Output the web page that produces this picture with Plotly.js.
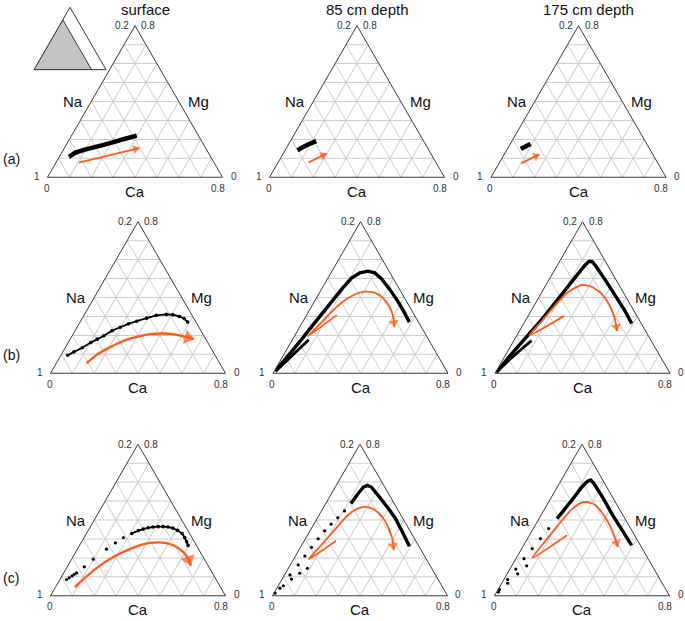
<!DOCTYPE html>
<html><head><meta charset="utf-8">
<script src="https://cdn.plot.ly/plotly-3.0.1.min.js"></script>
<style>html,body{margin:0;padding:0;background:#fff}#chart{width:685px;height:621px}</style>
</head><body><div id="chart"></div>
<script>
// ---------- text ----------
const columnTitles = ['surface', '85 cm depth', '175 cm depth'];
const rowLabels = ['(a)', '(b)', '(c)'];
const cornerNames = ['Na', 'Mg', 'Ca'];
const apexTicks = ['0.2', '0.8'];
const leftCornerTicks = ['1', '0'];
const rightCornerTicks = ['0', '0.8'];

// ---------- data: Mg (a-axis) and Ca (c-axis) fractions; Na = 1 - Mg - Ca (filled in by Plotly via sum) ----------
const a1BlackMg = [0.108, 0.130, 0.145, 0.158, 0.171, 0.186, 0.201, 0.220];
const a1BlackCa = [0.044, 0.063, 0.094, 0.132, 0.171, 0.209, 0.246, 0.298];
const a1ArrowMg = [0.078, 0.154];
const a1ArrowCa = [0.104, 0.343];

const a2BlackMg = [0.142, 0.159, 0.172, 0.183, 0.191];
const a2BlackCa = [0.057, 0.072, 0.088, 0.105, 0.118];
const a2ArrowMg = [0.078, 0.125];
const a2ArrowCa = [0.139, 0.198];

const a3BlackMg = [0.150, 0.159, 0.168, 0.176];
const a3BlackCa = [0.061, 0.072, 0.082, 0.093];
const a3ArrowMg = [0.075, 0.121];
const a3ArrowCa = [0.102, 0.161];

const b1BlackMg = [0.095, 0.113, 0.135, 0.162, 0.180, 0.198, 0.225, 0.243, 0.261, 0.275, 0.291, 0.306, 0.311, 0.309, 0.300, 0.288, 0.270];
const b1BlackCa = [0.031, 0.051, 0.078, 0.103, 0.124, 0.145, 0.169, 0.197, 0.226, 0.256, 0.294, 0.331, 0.374, 0.405, 0.439, 0.468, 0.492];
const b1ArrowMg = [0.054, 0.099, 0.138, 0.171, 0.192, 0.207, 0.210, 0.207, 0.196, 0.180];
const b1ArrowCa = [0.138, 0.164, 0.204, 0.248, 0.298, 0.351, 0.409, 0.456, 0.507, 0.567];

const b2MainMg = [0.015, 0.097, 0.183, 0.270, 0.356, 0.444, 0.502, 0.530, 0.539, 0.530, 0.499, 0.444, 0.380, 0.320, 0.270];
const b2MainCa = [0.005, 0.024, 0.042, 0.058, 0.075, 0.092, 0.108, 0.132, 0.165, 0.200, 0.246, 0.311, 0.381, 0.441, 0.488];
const b2LowerMg = [0.009, 0.060, 0.119, 0.177];
const b2LowerCa = [0.007, 0.027, 0.051, 0.075];
const b2ArrowMg = [0.307, 0.195, 0.252, 0.325, 0.385, 0.420, 0.431, 0.426, 0.398, 0.352, 0.307, 0.243];
const b2ArrowCa = [0.138, 0.062, 0.082, 0.106, 0.136, 0.171, 0.205, 0.252, 0.303, 0.357, 0.394, 0.434];

const b3MainMg = [0.005, 0.096, 0.186, 0.285, 0.394, 0.493, 0.569, 0.591, 0.589, 0.562, 0.484, 0.403, 0.334, 0.262];
const b3MainCa = [0.004, 0.023, 0.046, 0.072, 0.093, 0.111, 0.126, 0.135, 0.150, 0.182, 0.267, 0.352, 0.425, 0.494];
const b3LowerMg = [0.005, 0.069, 0.123, 0.172];
const b3LowerCa = [0.004, 0.029, 0.055, 0.081];
const b3ArrowMg = [0.303, 0.200, 0.276, 0.358, 0.430, 0.466, 0.457, 0.421, 0.358, 0.294, 0.222];
const b3ArrowCa = [0.165, 0.057, 0.076, 0.096, 0.120, 0.163, 0.212, 0.276, 0.345, 0.399, 0.447];

const c1SparseMg = [0.086, 0.095, 0.105, 0.113, 0.121, 0.153, 0.193, 0.246, 0.279, 0.307];
const c1SparseCa = [0.030, 0.038, 0.046, 0.052, 0.059, 0.078, 0.099, 0.133, 0.157, 0.180];
const c1DenseMg = [0.329, 0.344, 0.352, 0.359, 0.363, 0.365, 0.365, 0.363, 0.357, 0.345, 0.329, 0.307, 0.285, 0.266];
const c1DenseCa = [0.207, 0.230, 0.248, 0.267, 0.287, 0.310, 0.332, 0.355, 0.381, 0.409, 0.437, 0.460, 0.480, 0.496];
const c1ArrowMg = [0.046, 0.091, 0.149, 0.196, 0.232, 0.261, 0.279, 0.282, 0.274, 0.254, 0.224, 0.191, 0.158];
const c1ArrowCa = [0.088, 0.108, 0.139, 0.176, 0.218, 0.263, 0.315, 0.358, 0.407, 0.455, 0.500, 0.536, 0.563];

const c2SparseMg = [0.040, 0.110, 0.163, 0.210, 0.256, 0.301, 0.343, 0.378, 0.413, 0.448];
const c2SparseCa = [0.014, 0.025, 0.036, 0.043, 0.050, 0.058, 0.067, 0.079, 0.092, 0.105];
const c2DenseMg = [0.487, 0.536, 0.574, 0.583, 0.574, 0.525, 0.469, 0.408, 0.335, 0.262];
const c2DenseCa = [0.115, 0.121, 0.129, 0.142, 0.165, 0.224, 0.290, 0.358, 0.427, 0.495];
const c2LowerMg = [0.014, 0.053, 0.088, 0.119, 0.145];
const c2LowerCa = [0.005, 0.023, 0.043, 0.065, 0.087];
const c2ArrowMg = [0.291, 0.193, 0.268, 0.347, 0.425, 0.460, 0.469, 0.455, 0.417, 0.355, 0.303, 0.241];
const c2ArrowCa = [0.145, 0.069, 0.089, 0.110, 0.131, 0.159, 0.192, 0.237, 0.293, 0.354, 0.396, 0.434];

const c3SparseMg = [0.033, 0.086, 0.141, 0.196, 0.249, 0.302, 0.355];
const c3SparseCa = [0.006, 0.017, 0.027, 0.037, 0.048, 0.059, 0.070];
const c3DenseMg = [0.407, 0.461, 0.515, 0.573, 0.604, 0.611, 0.594, 0.515, 0.423, 0.340, 0.266];
const c3DenseCa = [0.082, 0.093, 0.103, 0.112, 0.122, 0.134, 0.157, 0.239, 0.330, 0.417, 0.494];
const c3LowerMg = [0.020, 0.066, 0.116, 0.158];
const c3LowerCa = [0.008, 0.027, 0.048, 0.068];
const c3ArrowMg = [0.319, 0.199, 0.279, 0.365, 0.448, 0.488, 0.495, 0.481, 0.432, 0.373, 0.315, 0.257];
const c3ArrowCa = [0.172, 0.073, 0.086, 0.103, 0.122, 0.147, 0.174, 0.218, 0.280, 0.340, 0.391, 0.435];

// inset: full triangle with the zoomed sub-region (Na >= 0.2) shaded
const insetMg = [0.8, 0, 0, 0.8];
const insetCa = [0, 0, 0.8, 0];

// ---------- styling / layout ----------
const FIG_W = 685, FIG_H = 621;
const FONT = 'Arial, "Liberation Sans", sans-serif';
const ORANGE = '#ff5a16';
const TRI_W = 175;
const TRI_H = TRI_W * Math.sqrt(3) / 2;
const centersX = [[135, 357, 578.5], [138, 360.5, 582.5], [138, 360, 582]];
const centersY = [101.5, 297.5, 520];

const STYLES = {
  band:    {mode: 'lines', line: {color: '#000', width: 4.5}},
  thick:   {mode: 'lines', line: {color: '#000', width: 3.4}},
  lower:   {mode: 'lines', line: {color: '#000', width: 2.8}},
  dots:    {mode: 'markers', marker: {color: '#000', size: 3.2}},
  dotline: {mode: 'lines+markers', line: {color: '#000', width: 1.8}, marker: {color: '#000', size: 3.6}}
};

const panels = [
  {series: [[a1BlackMg, a1BlackCa, 'band']], arrow: [a1ArrowMg, a1ArrowCa], aw: 1.8, ah: 8},
  {series: [[a2BlackMg, a2BlackCa, 'band']], arrow: [a2ArrowMg, a2ArrowCa], aw: 1.8, ah: 8},
  {series: [[a3BlackMg, a3BlackCa, 'band']], arrow: [a3ArrowMg, a3ArrowCa], aw: 1.8, ah: 8},
  {series: [[b1BlackMg, b1BlackCa, 'dotline']], arrow: [b1ArrowMg, b1ArrowCa], aw: 2.3, ah: 13},
  {series: [[b2MainMg, b2MainCa, 'thick'], [b2LowerMg, b2LowerCa, 'lower']], arrow: [b2ArrowMg, b2ArrowCa], aw: 1.8, ah: 9},
  {series: [[b3MainMg, b3MainCa, 'thick'], [b3LowerMg, b3LowerCa, 'lower']], arrow: [b3ArrowMg, b3ArrowCa], aw: 1.8, ah: 9},
  {series: [[c1SparseMg, c1SparseCa, 'dots'], [c1DenseMg, c1DenseCa, 'dotline']], arrow: [c1ArrowMg, c1ArrowCa], aw: 2.3, ah: 13},
  {series: [[c2SparseMg, c2SparseCa, 'dots'], [c2DenseMg, c2DenseCa, 'thick'], [c2LowerMg, c2LowerCa, 'dots']], arrow: [c2ArrowMg, c2ArrowCa], aw: 1.8, ah: 9},
  {series: [[c3SparseMg, c3SparseCa, 'dots'], [c3DenseMg, c3DenseCa, 'thick'], [c3LowerMg, c3LowerCa, 'dots']], arrow: [c3ArrowMg, c3ArrowCa], aw: 1.8, ah: 9}
];

function subId(i) { return i === 0 ? 'ternary' : 'ternary' + (i + 1); }

function axisCfg(min, grid) {
  return {
    min: min, showgrid: grid, gridcolor: '#cdcdcd', gridwidth: 1,
    tick0: 0, dtick: 0.1, showticklabels: false, ticks: '', ticklen: 0,
    showline: true, linecolor: '#3a3a3a', linewidth: 1, title: {text: ''}
  };
}

function domainFor(cx, cy, w, h) {
  return {x: [(cx - w / 2) / FIG_W, (cx + w / 2) / FIG_W], y: [1 - (cy + h / 2) / FIG_H, 1 - (cy - h / 2) / FIG_H]};
}

function ann(text, px, py, size, xanchor, yanchor, color) {
  return {text: text, x: px / FIG_W, y: 1 - py / FIG_H, xref: 'paper', yref: 'paper', showarrow: false,
          xanchor: xanchor, yanchor: yanchor, font: {family: FONT, size: size, color: color || '#111'}};
}

const traces = [];
const layout = {
  width: FIG_W, height: FIG_H, margin: {l: 0, r: 0, t: 0, b: 0},
  paper_bgcolor: '#fff', plot_bgcolor: '#fff', showlegend: false,
  annotations: []
};

panels.forEach(function (p, i) {
  const row = Math.floor(i / 3), col = i % 3;
  const cx = centersX[row][col], cy = centersY[row];
  const sub = subId(i);
  layout[sub] = {
    domain: domainFor(cx, cy, TRI_W, TRI_H), sum: 1, bgcolor: '#fff',
    aaxis: axisCfg(0, true), baxis: axisCfg(0.2, true), caxis: axisCfg(0, true)
  };
  p.series.forEach(function (s) {
    const st = STYLES[s[2]];
    traces.push(Object.assign({type: 'scatterternary', subplot: sub, a: s[0], c: s[1], sum: 1,
      hoverinfo: 'skip', cliponaxis: false}, JSON.parse(JSON.stringify(st))));
  });
  const am = p.arrow[0], ac = p.arrow[1];
  traces.push({
    type: 'scatterternary', subplot: sub, a: am, c: ac, sum: 1, mode: 'lines+markers', hoverinfo: 'skip',
    cliponaxis: false,
    line: {color: ORANGE, width: p.aw, shape: 'spline', smoothing: 0.6},
    marker: {color: ORANGE, symbol: 'triangle-up', angleref: 'previous', standoff: p.ah / 2,
             size: am.map(function (_, k) { return k === am.length - 1 ? p.ah : 0; }), line: {width: 0}}
  });

  // geometry for text placement
  const apexX = cx, apexY = cy - TRI_H / 2;
  const blX = cx - TRI_W / 2, brX = cx + TRI_W / 2, baseY = cy + TRI_H / 2;
  const A = layout.annotations;
  if (row === 0) A.push(ann(columnTitles[col], apexX + 10, 10, 15, 'center', 'middle'));
  if (col === 0) A.push(ann(rowLabels[row], 1, baseY - 18, 14, 'left', 'middle'));
  A.push(ann(apexTicks[0], apexX - 4, apexY, 10, 'right', 'middle', '#333'));
  A.push(ann(apexTicks[1], apexX + 4, apexY, 10, 'left', 'middle', '#333'));
  A.push(ann(leftCornerTicks[0], blX - 6, baseY - 1, 10, 'right', 'middle', '#333'));
  A.push(ann(leftCornerTicks[1], blX - 1, baseY + 11, 10, 'center', 'middle', '#333'));
  A.push(ann(rightCornerTicks[0], brX + 6, baseY - 1, 10, 'left', 'middle', '#333'));
  A.push(ann(rightCornerTicks[1], brX - 5, baseY + 11, 10, 'center', 'middle', '#333'));
  A.push(ann(cornerNames[0], (apexX + blX) / 2 - 6, (apexY + baseY) / 2, 15, 'right', 'middle'));
  A.push(ann(cornerNames[1], (apexX + brX) / 2 + 7, (apexY + baseY) / 2, 15, 'left', 'middle'));
  A.push(ann(cornerNames[2], apexX, baseY + 14, 15, 'center', 'middle'));
});

// inset key triangle
layout.ternary10 = {
  domain: domainFor(70, 38.5, 72, 72 * Math.sqrt(3) / 2), sum: 1, bgcolor: '#fff',
  aaxis: axisCfg(0, false), baxis: axisCfg(0, false), caxis: axisCfg(0, false)
};
traces.push({type: 'scatterternary', subplot: 'ternary10', a: insetMg, c: insetCa, sum: 1, mode: 'lines',
  fill: 'toself', fillcolor: '#c4c4c4', line: {color: '#3a3a3a', width: 1}, hoverinfo: 'skip'});

Plotly.newPlot('chart', traces, layout, {staticPlot: true, displayModeBar: false});
</script>
</body></html>
